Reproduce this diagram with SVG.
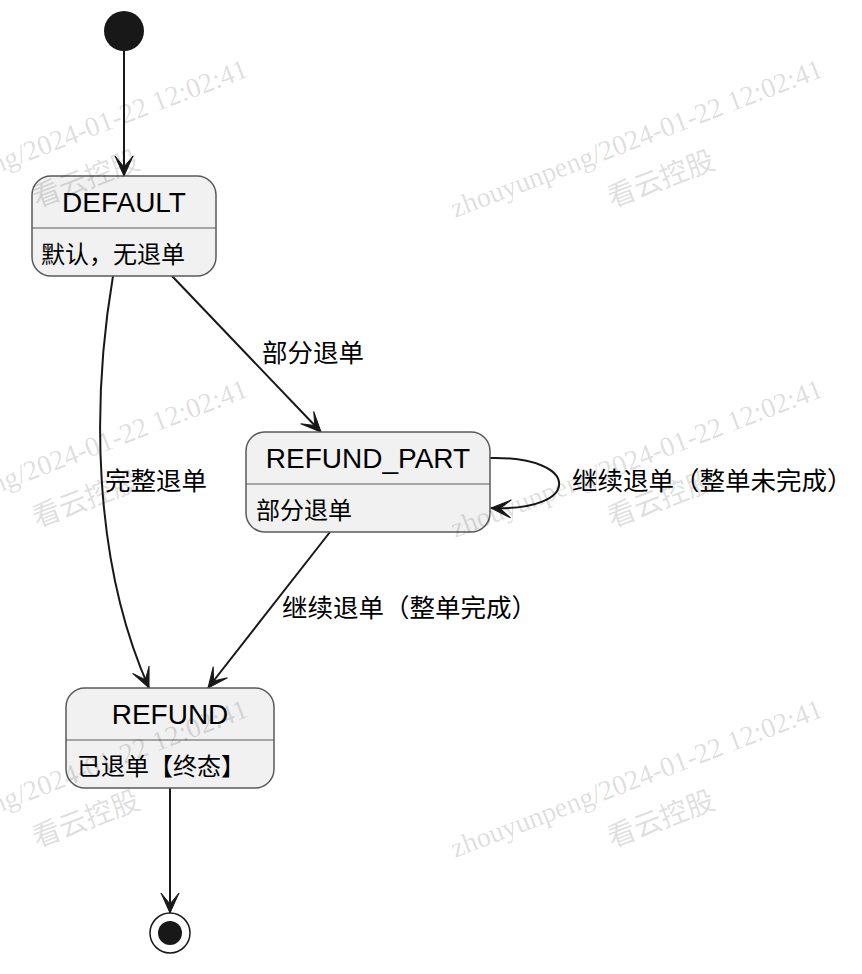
<svg xmlns="http://www.w3.org/2000/svg" xmlns:xlink="http://www.w3.org/1999/xlink" width="862" height="974" viewBox="0 0 862 974">
<style>
.box{fill:#f1f1f1;stroke:#5a5a5a;stroke-width:1.5}
.div{stroke:#5a5a5a;stroke-width:1.2}
.title{font-family:"Liberation Sans","Noto Sans CJK SC",sans-serif;font-size:28px;fill:#000;text-anchor:middle}
.desc{font-family:"Liberation Sans","Noto Sans CJK SC",sans-serif;font-size:24px;fill:#000}
.lbl{font-family:"Liberation Sans","Noto Sans CJK SC",sans-serif;font-size:25.5px;fill:#000}
.edge{fill:none;stroke:#181818;stroke-width:2}
.wm{font-family:"Liberation Serif","Noto Sans CJK SC",serif;font-size:28px;fill:#000;fill-opacity:0.14}
</style>
<defs>
<marker id="arr" markerUnits="userSpaceOnUse" markerWidth="24" markerHeight="24" viewBox="-22 -11 24 22" refX="0" refY="0" orient="auto">
<path d="M0,0 L-20,-9 L-9,0 L-20,9 Z" fill="#181818" stroke="#181818" stroke-width="1"/>
</marker>
<g id="wmtile">
<text class="wm" transform="rotate(-21)">zhouyunpeng/2024-01-22 12:02:41</text>
<text class="wm" transform="translate(157,-10) rotate(-21)">看云控股</text>
</g>
</defs>
<g id="connectors">
<path class="edge" d="M124,51 L124,176" marker-end="url(#arr)"/>
<path class="edge" d="M172,276 L321,432" marker-end="url(#arr)"/>
<path class="edge" d="M113,276 C92,400 92,560 149,688" marker-end="url(#arr)"/>
<path class="edge" d="M490,458 C582,456 582,512 491,508" marker-end="url(#arr)"/>
<path class="edge" d="M330,532 L208,688" marker-end="url(#arr)"/>
<path class="edge" d="M170,788 L170,913" marker-end="url(#arr)"/>
<text class="lbl" x="262" y="362">部分退单</text>
<text class="lbl" x="105" y="490">完整退单</text>
<text class="lbl" x="572" y="490">继续退单（整单未完成）</text>
<text class="lbl" x="282" y="617">继续退单（整单完成）</text>
</g>
<g id="start">
<circle cx="124" cy="31" r="20" fill="#181818"/>
</g>
<g id="DEFAULT">
<rect class="box" x="32" y="176" width="184" height="100" rx="19"/>
<line class="div" x1="32" y1="228" x2="216" y2="228"/>
<text class="title" x="124" y="212">DEFAULT</text>
<text class="desc" x="41" y="263">默认，无退单</text>
</g>
<g id="REFUND_PART">
<rect class="box" x="246" y="432" width="244" height="100" rx="19"/>
<line class="div" x1="246" y1="484" x2="490" y2="484"/>
<text class="title" x="368" y="468">REFUND_PART</text>
<text class="desc" x="256" y="519">部分退单</text>
</g>
<g id="REFUND">
<rect class="box" x="66" y="688" width="208" height="100" rx="19"/>
<line class="div" x1="66" y1="740" x2="274" y2="740"/>
<text class="title" x="170" y="724">REFUND</text>
<text class="desc" x="77" y="775">已退单【终态】</text>
</g>
<g id="end">
<circle cx="170" cy="933" r="20" fill="#fff" stroke="#181818" stroke-width="1.5"/>
<circle cx="170" cy="933" r="12" fill="#181818"/>
</g>
<g id="watermark">
<use xlink:href="#wmtile" x="-120" y="218"/>
<use xlink:href="#wmtile" x="455" y="218"/>
<use xlink:href="#wmtile" x="-120" y="538"/>
<use xlink:href="#wmtile" x="455" y="538"/>
<use xlink:href="#wmtile" x="-120" y="858"/>
<use xlink:href="#wmtile" x="455" y="858"/>
</g>
</svg>
